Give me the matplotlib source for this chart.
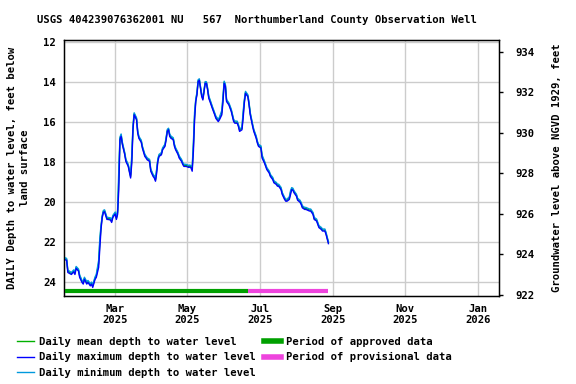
""" USGS groundwater depth chart """

import matplotlib
matplotlib.use("Agg")
import matplotlib.pyplot as plt
import pandas as pd
from matplotlib.lines import Line2D

# === 1. data ===
dates = [
    "01-17", "01-19", "01-20", "01-23", "01-25", "01-26", "01-27", "01-29", "01-30", "02-01",
    "02-02", "02-03", "02-05", "02-06", "02-08", "02-09", "02-10", "02-12", "02-13", "02-15",
    "02-16", "02-17", "02-18", "02-19", "02-20", "02-22", "02-23", "02-25", "02-26", "02-27",
    "03-01", "03-02", "03-03", "03-04", "03-05", "03-06", "03-07", "03-09", "03-10", "03-12",
    "03-13", "03-14", "03-15", "03-16", "03-17", "03-19", "03-20", "03-21", "03-23", "03-24",
    "03-26", "03-27", "03-28", "03-30", "03-31", "04-02", "04-03", "04-04", "04-05", "04-06",
    "04-07", "04-09", "04-10", "04-12", "04-13", "04-14", "04-15", "04-16", "04-17", "04-19",
    "04-20", "04-21", "04-23", "04-24", "04-26", "04-27", "04-28", "04-30", "05-02", "05-03",
    "05-04", "05-05", "05-06", "05-07", "05-08", "05-09", "05-10", "05-11", "05-12", "05-13",
    "05-14", "05-15", "05-16", "05-17", "05-18", "05-19", "05-20", "05-22", "05-24", "05-25",
    "05-27", "05-28", "05-30", "05-31", "06-01", "06-02", "06-03", "06-05", "06-06", "06-07",
    "06-09", "06-10", "06-12", "06-13", "06-14", "06-16", "06-17", "06-18", "06-19", "06-21",
    "06-22", "06-23", "06-25", "06-26", "06-28", "06-29", "06-30", "07-02", "07-03", "07-05",
    "07-06", "07-07", "07-09", "07-10", "07-12", "07-13", "07-15", "07-16", "07-17", "07-19",
    "07-20", "07-22", "07-23", "07-24", "07-26", "07-27", "07-28", "07-29", "07-30", "08-01",
    "08-02", "08-04", "08-05", "08-06", "08-08", "08-09", "08-11", "08-12", "08-13", "08-15",
    "08-16", "08-18", "08-19", "08-20", "08-22", "08-23", "08-25", "08-26", "08-27", "08-28",
]

depth_max = [
    22.84, 22.90, 23.50, 23.60, 23.47, 23.60, 23.30, 23.43, 23.75, 24.00,
    24.08, 23.84, 24.08, 24.00, 24.17, 24.08, 24.25, 23.84, 23.75, 23.25,
    22.26, 21.35, 20.77, 20.50, 20.47, 20.85, 20.85, 20.88, 21.00, 20.75,
    20.58, 20.85, 20.60, 19.36, 16.87, 16.70, 17.10, 17.60, 17.95, 18.20,
    18.50, 18.78, 18.03, 16.37, 15.62, 15.87, 16.54, 16.80, 17.00, 17.30,
    17.70, 17.78, 17.87, 17.95, 18.44, 18.70, 18.78, 18.94, 18.53, 17.95,
    17.70, 17.62, 17.37, 17.20, 16.87, 16.45, 16.37, 16.70, 16.79, 16.87,
    17.20, 17.37, 17.60, 17.78, 17.95, 18.10, 18.20, 18.20, 18.25, 18.23,
    18.28, 18.44, 17.45, 15.87, 14.96, 14.63, 13.97, 13.90, 14.30, 14.70,
    14.88, 14.46, 14.05, 14.05, 14.38, 14.80, 14.96, 15.30, 15.62, 15.80,
    15.96, 15.87, 15.62, 14.96, 14.05, 14.20, 14.96, 15.13, 15.30, 15.46,
    15.96, 16.04, 16.04, 16.20, 16.45, 16.37, 15.79, 15.04, 14.55, 14.72,
    15.13, 15.62, 16.20, 16.45, 16.79, 17.03, 17.20, 17.28, 17.78, 18.03,
    18.20, 18.36, 18.53, 18.70, 18.86, 19.02, 19.10, 19.19, 19.19, 19.36,
    19.60, 19.85, 19.94, 19.94, 19.85, 19.60, 19.36, 19.39, 19.52, 19.69,
    19.89, 19.99, 20.10, 20.27, 20.35, 20.35, 20.40, 20.43, 20.43, 20.60,
    20.85, 20.93, 21.10, 21.26, 21.35, 21.43, 21.43, 21.60, 21.84, 22.06,
]

depth_mean = [
    22.79, 22.85, 23.43, 23.55, 23.42, 23.53, 23.25, 23.38, 23.68, 23.95,
    24.02, 23.79, 24.01, 23.95, 24.11, 24.03, 24.18, 23.78, 23.68, 23.05,
    22.00, 21.25, 20.72, 20.45, 20.42, 20.79, 20.80, 20.82, 20.94, 20.70,
    20.53, 20.79, 20.50, 18.90, 16.80, 16.64, 17.04, 17.55, 17.89, 18.15,
    18.44, 18.70, 17.80, 16.25, 15.57, 15.82, 16.48, 16.75, 16.94, 17.25,
    17.64, 17.73, 17.82, 17.90, 18.38, 18.65, 18.72, 18.88, 18.40, 17.88,
    17.65, 17.56, 17.32, 17.14, 16.80, 16.40, 16.33, 16.64, 16.73, 16.82,
    17.14, 17.32, 17.55, 17.72, 17.90, 18.05, 18.14, 18.15, 18.20, 18.18,
    18.22, 18.30, 17.20, 15.70, 14.90, 14.56, 13.92, 13.86, 14.24, 14.64,
    14.82, 14.40, 14.00, 14.01, 14.33, 14.74, 14.90, 15.25, 15.57, 15.74,
    15.90, 15.80, 15.50, 14.80, 13.99, 14.15, 14.90, 15.08, 15.24, 15.40,
    15.90, 15.98, 15.99, 16.15, 16.39, 16.30, 15.60, 14.95, 14.50, 14.67,
    15.07, 15.56, 16.14, 16.40, 16.73, 16.98, 17.15, 17.22, 17.70, 17.98,
    18.15, 18.31, 18.48, 18.65, 18.80, 18.97, 19.05, 19.14, 19.14, 19.30,
    19.55, 19.80, 19.89, 19.89, 19.78, 19.50, 19.31, 19.34, 19.47, 19.64,
    19.84, 19.94, 20.05, 20.22, 20.30, 20.30, 20.35, 20.38, 20.38, 20.55,
    20.80, 20.88, 21.05, 21.21, 21.30, 21.38, 21.38, 21.55, 21.79, 22.00,
]

depth_min = [
    22.74, 22.80, 23.38, 23.50, 23.37, 23.48, 23.20, 23.33, 23.63, 23.90,
    23.97, 23.74, 23.96, 23.90, 24.06, 23.98, 24.12, 23.72, 23.60, 22.90,
    21.80, 21.15, 20.67, 20.40, 20.37, 20.74, 20.75, 20.77, 20.89, 20.65,
    20.48, 20.74, 20.40, 18.40, 16.74, 16.58, 16.98, 17.50, 17.84, 18.10,
    18.38, 18.62, 17.60, 16.15, 15.52, 15.77, 16.42, 16.70, 16.89, 17.20,
    17.59, 17.68, 17.77, 17.85, 18.32, 18.60, 18.67, 18.83, 18.30, 17.82,
    17.60, 17.51, 17.27, 17.09, 16.74, 16.35, 16.29, 16.58, 16.68, 16.77,
    17.09, 17.27, 17.50, 17.67, 17.85, 18.00, 18.09, 18.10, 18.15, 18.13,
    18.17, 18.20, 17.00, 15.50, 14.84, 14.50, 13.87, 13.82, 14.19, 14.59,
    14.77, 14.35, 13.96, 13.97, 14.28, 14.69, 14.85, 15.20, 15.52, 15.69,
    15.85, 15.74, 15.40, 14.65, 13.94, 14.10, 14.85, 15.03, 15.19, 15.35,
    15.85, 15.93, 15.94, 16.10, 16.34, 16.24, 15.45, 14.87, 14.45, 14.62,
    15.02, 15.51, 16.09, 16.35, 16.68, 16.93, 17.10, 17.17, 17.63, 17.93,
    18.10, 18.26, 18.43, 18.60, 18.75, 18.92, 19.00, 19.09, 19.09, 19.25,
    19.50, 19.75, 19.84, 19.84, 19.72, 19.42, 19.26, 19.29, 19.42, 19.59,
    19.79, 19.89, 20.00, 20.17, 20.25, 20.25, 20.30, 20.33, 20.33, 20.50,
    20.75, 20.83, 21.00, 21.16, 21.25, 21.33, 21.33, 21.50, 21.74, 21.95,
]

approved_period = ["2025-01-17", "2025-06-21"]
provisional_period = ["2025-06-21", "2025-08-28"]

xtick_dates = ["2025-03-01", "2025-05-01", "2025-07-01", "2025-09-01", "2025-11-01", "2026-01-01"]
xtick_labels = ["Mar\n2025", "May\n2025", "Jul\n2025", "Sep\n2025", "Nov\n2025", "Jan\n2026"]
depth_ticks = [12, 14, 16, 18, 20, 22, 24]
elev_ticks = [922, 924, 926, 928, 930, 932, 934]

title = "USGS 404239076362001 NU   567  Northumberland County Observation Well"

# === 2. figure ===
FONT = {"family": "DejaVu Sans Mono", "weight": "bold", "size": 7.6}
plt.rcParams["font.family"] = "DejaVu Sans Mono"
plt.rcParams["font.weight"] = "bold"
plt.rcParams["font.size"] = 7.6

t = pd.to_datetime(["2025-" + d for d in dates])

fig = plt.figure(figsize=(5.76, 3.84), dpi=100)
ax = fig.add_axes([0.1116, 0.229, 0.7547, 0.668])

ax.plot(t, depth_mean, color="#00b000", lw=1, zorder=3)
ax.plot(t, depth_min, color="#0099dd", lw=1, zorder=3)
ax.plot(t, depth_max, color="#0000ff", lw=1, zorder=4)

bar_y = 24.45
ax.plot(pd.to_datetime(approved_period), [bar_y, bar_y], color="#00a000", lw=3,
        solid_capstyle="butt", zorder=5)
ax.plot(pd.to_datetime(provisional_period), [bar_y, bar_y], color="#ee44dd", lw=3,
        solid_capstyle="butt", zorder=5)

ax.set_xlim(pd.Timestamp("2025-01-17"), pd.Timestamp("2026-01-19"))
ax.set_ylim(24.68, 11.86)
ax.set_yticks(depth_ticks)
ax.set_xticks(pd.to_datetime(xtick_dates))
ax.set_xticklabels(xtick_labels)
ax.tick_params(axis="y", length=0, pad=6)
ax.tick_params(axis="x", length=0, pad=5.5)
ax.grid(True, color="#cccccc", lw=1)
ax.set_axisbelow(True)
for s in ax.spines.values():
    s.set_linewidth(1)
    s.set_color("black")

ax2 = ax.twinx()
ax2.set_ylim(921.95, 934.6)
ax2.set_yticks(elev_ticks)
ax2.tick_params(axis="y", direction="out", length=3, width=1, pad=9)

fig.text(37 / 576, 1 - 20 / 384, title, ha="left", va="center", fontdict=FONT)
fig.text(18.5 / 576, 0.563, "DAILY Depth to water level, feet below\nland surface",
         rotation=90, ha="center", va="center", multialignment="center",
         linespacing=1.3, fontdict=FONT)
fig.text(557 / 576, 0.563, "Groundwater level above NGVD 1929, feet",
         rotation=90, ha="center", va="center", fontdict=FONT)

# === 3. legend ===
handles = [
    Line2D([], [], color="#00b000", lw=1),
    Line2D([], [], color="#0000ff", lw=1),
    Line2D([], [], color="#0099dd", lw=1),
    Line2D([], [], color="#00a000", lw=4),
    Line2D([], [], color="#ee44dd", lw=4),
]
labels = [
    "Daily mean depth to water level",
    "Daily maximum depth to water level",
    "Daily minimum depth to water level",
    "Period of approved data",
    "Period of provisional data",
]
fig.legend(handles, labels, loc="upper left", bbox_to_anchor=(0.030, 0.123), ncol=2,
           frameon=False, prop=FONT, handlelength=1.55, handletextpad=0.52,
           columnspacing=0.8, labelspacing=0.53, borderaxespad=0, borderpad=0)

fig.savefig("out.png", dpi=100)
